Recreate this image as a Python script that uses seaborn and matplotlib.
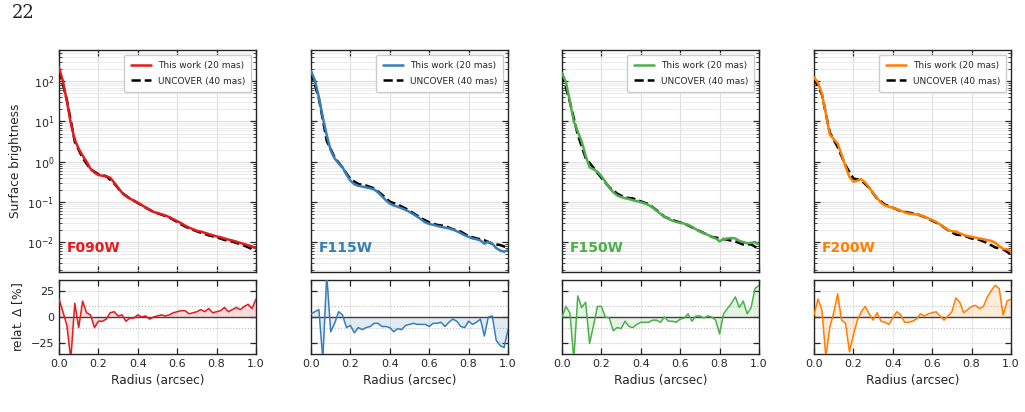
import numpy as np
import pandas as pd
import matplotlib
matplotlib.use('Agg')
import matplotlib.pyplot as plt
import seaborn as sns

radius = np.round(np.arange(0, 1.0001, 0.02), 2)

filters = ['F090W', 'F115W', 'F150W', 'F200W']
colors = ['#e41a1c', '#377eb8', '#4daf4a', '#ff7f00']

# log10 surface brightness of "this work"
logsb_f090w = [2.34, 2.0, 1.5, 0.95, 0.55, 0.32, 0.15, 0.0, -0.18, -0.27, -0.33, -0.35, -0.37,
               -0.40, -0.52, -0.65, -0.77, -0.86, -0.92, -0.97, -1.02, -1.08, -1.14, -1.20,
               -1.25, -1.28, -1.31, -1.34, -1.38, -1.43, -1.48, -1.53, -1.59, -1.64, -1.68,
               -1.72, -1.74, -1.77, -1.80, -1.83, -1.86, -1.88, -1.91, -1.94, -1.96, -1.99,
               -2.02, -2.05, -2.08, -2.11, -2.15]
logsb_f115w = [2.25, 2.02, 1.6, 1.1, 0.66, 0.28, 0.08, -0.04, -0.14, -0.32, -0.47, -0.56, -0.60,
               -0.62, -0.64, -0.66, -0.69, -0.76, -0.86, -0.96, -1.04, -1.09, -1.12, -1.16,
               -1.20, -1.25, -1.31, -1.37, -1.44, -1.51, -1.55, -1.57, -1.60, -1.62, -1.64,
               -1.66, -1.69, -1.73, -1.78, -1.83, -1.87, -1.91, -1.93, -1.96, -2.04, -1.99,
               -2.04, -2.15, -2.21, -2.24, -2.20]
logsb_f150w = [2.2, 1.98, 1.5, 1.0, 0.75, 0.5, 0.15, -0.14, -0.19, -0.25, -0.36, -0.50, -0.64,
               -0.76, -0.84, -0.88, -0.91, -0.93, -0.96, -0.98, -1.01, -1.04, -1.08, -1.14,
               -1.22, -1.30, -1.37, -1.42, -1.47, -1.50, -1.52, -1.54, -1.57, -1.62, -1.68,
               -1.74, -1.78, -1.82, -1.87, -1.91, -1.98, -1.93, -1.91, -1.90, -1.91, -1.97,
               -2.00, -2.03, -2.02, -2.00, -2.06]
logsb_f200w = [2.1, 1.96, 1.7, 1.2, 0.68, 0.56, 0.45, 0.18, -0.12, -0.38, -0.50, -0.47, -0.44,
               -0.52, -0.64, -0.78, -0.90, -1.02, -1.09, -1.12, -1.15, -1.18, -1.22, -1.26,
               -1.29, -1.30, -1.31, -1.33, -1.37, -1.41, -1.45, -1.50, -1.56, -1.63, -1.70,
               -1.73, -1.74, -1.78, -1.82, -1.85, -1.87, -1.89, -1.91, -1.93, -1.95, -1.97,
               -2.02, -2.10, -2.17, -2.18, -2.24]

# relative difference this work vs UNCOVER [%]
delta_f090w = [17, 5, -8, -40, 13, -10, 15, 4, 2, -10, -4, -4, -2, 4, 5, 1, 2, -4, -1, -1, 2,
               0, 1, -2, 0, 1, 2, 1, 2, 4, 5, 6, 6, 3, 4, 5, 7, 5, 8, 4, 5, 6, 9, 5, 7, 9, 7,
               10, 12, 8, 17]
delta_f115w = [3, 5, 7, -40, 40, -14, -6, 5, 2, -10, -8, -15, -10, -12, -10, -9, -6, -6, -9,
               -9, -10, -14, -11, -12, -8, -7, -6, -7, -7, -7, -9, -6, -6, -5, -9, -5, -2, -4,
               -9, -10, -4, -7, -5, -2, -18, 0, 1, -22, -27, -29, -12]
delta_f150w = [0, 10, 4, -40, 20, 9, 14, -25, -8, 10, 10, 0, -1, -13, -10, -11, -4, -9, -10,
               -7, -5, -5, -5, -3, -3, -5, 0, -4, -4, -5, -2, -1, 3, -4, 1, 1, -1, 1, 0, -3,
               -16, 3, 8, 13, 19, 9, 15, 3, 9, 27, 30]
delta_f200w = [2, 17, 7, -38, -10, 4, 22, -3, -6, -33, -17, -3, 5, 10, 3, -3, 4, -4, -5, -7,
               -1, 5, 2, -5, -5, -4, -2, 3, 1, 3, 4, 5, 1, -3, 1, 5, 18, 14, 4, 7, 10, 11, 8,
               10, 19, 25, 30, 27, 2, 15, 17]

logsb = [logsb_f090w, logsb_f115w, logsb_f150w, logsb_f200w]
deltas = [delta_f090w, delta_f115w, delta_f150w, delta_f200w]

sns.set_style('ticks')
plt.rcParams['font.family'] = ['DejaVu Sans']
plt.rcParams['xtick.direction'] = 'in'
plt.rcParams['ytick.direction'] = 'in'
plt.rcParams['xtick.top'] = True
plt.rcParams['ytick.right'] = True
plt.rcParams['xtick.labelsize'] = 8
plt.rcParams['ytick.labelsize'] = 8
plt.rcParams['axes.linewidth'] = 1.0

W, H = 1025, 412
fig = plt.figure(figsize=(W / 100, H / 100), dpi=100)
fig.text(12 / W, 1 - 13 / H, '22', family='DejaVu Serif', fontsize=13, va='center', ha='left')

lefts = [59, 311, 562, 814]
pw = 197
top_rect = (50, 272)
bot_rect = (280, 354)

for i, (filt, col) in enumerate(zip(filters, colors)):
    x0 = lefts[i] / W
    ax = fig.add_axes([x0, 1 - top_rect[1] / H, pw / W, (top_rect[1] - top_rect[0]) / H])
    axr = fig.add_axes([x0, 1 - bot_rect[1] / H, pw / W, (bot_rect[1] - bot_rect[0]) / H], sharex=ax)

    sb = 10 ** np.array(logsb[i])
    d = np.array(deltas[i], dtype=float)
    sb_unc = sb / (1 + d / 100.0)
    df = pd.DataFrame({'r': radius, 'this': sb, 'unc': sb_unc, 'delta': d})
    # UNCOVER is sampled on its 40 mas grid
    df_unc = df.iloc[::2]

    sns.lineplot(data=df_unc, x='r', y='unc', ax=ax, color='black', lw=1.8, ls='--', zorder=3,
                 label='UNCOVER (40 mas)')
    sns.lineplot(data=df, x='r', y='this', ax=ax, color=col, lw=1.8, zorder=4,
                 label='This work (20 mas)')
    ax.set_yscale('log')
    ax.set_ylim(1.8e-3, 6e2)
    ax.set_xlim(0, 1)
    ax.grid(True, which='major', color='0.87', lw=0.8)
    ax.grid(True, which='minor', axis='y', color='0.91', lw=0.6)
    ax.tick_params(which='major', length=4, width=0.9)
    ax.tick_params(which='minor', length=2, width=0.6)
    ax.tick_params(labelbottom=False)
    h, l = ax.get_legend_handles_labels()
    ax.legend(h[::-1], l[::-1], loc='upper right', fontsize=6.5, frameon=True,
              handlelength=2.2, borderpad=0.7, labelspacing=0.75, framealpha=1,
              edgecolor='0.8', fancybox=True)
    ax.text(0.04, 0.11, filt, transform=ax.transAxes, color=col, fontsize=10,
            fontweight='bold', ha='left', va='center')
    ax.set_xlabel('')
    ax.set_ylabel('')

    axr.axhline(0, color='0.25', lw=1.0, zorder=2)
    axr.axhline(10, color='0.75', lw=0.8, ls=':', zorder=1)
    axr.axhline(-10, color='0.75', lw=0.8, ls=':', zorder=1)
    axr.fill_between(df['r'], 0, df['delta'], color=col, alpha=0.15, lw=0)
    sns.lineplot(data=df, x='r', y='delta', ax=axr, color=col, lw=1.1, zorder=3)
    axr.set_ylim(-35, 35)
    axr.set_yticks([-25, 0, 25])
    axr.set_xticks([0, 0.2, 0.4, 0.6, 0.8, 1.0])
    axr.grid(True, which='major', color='0.9', lw=0.8)
    axr.tick_params(which='major', length=4, width=0.9)
    axr.set_xlabel('Radius (arcsec)', fontsize=8.7)
    axr.set_ylabel('')

    if i == 0:
        ax.set_ylabel('Surface brightness', fontsize=8.7)
        axr.set_ylabel(r'relat. $\Delta$ [%]', fontsize=8.7)
    else:
        ax.tick_params(labelleft=False)
        axr.tick_params(labelleft=False)

fig.savefig('out.png', dpi=100)
